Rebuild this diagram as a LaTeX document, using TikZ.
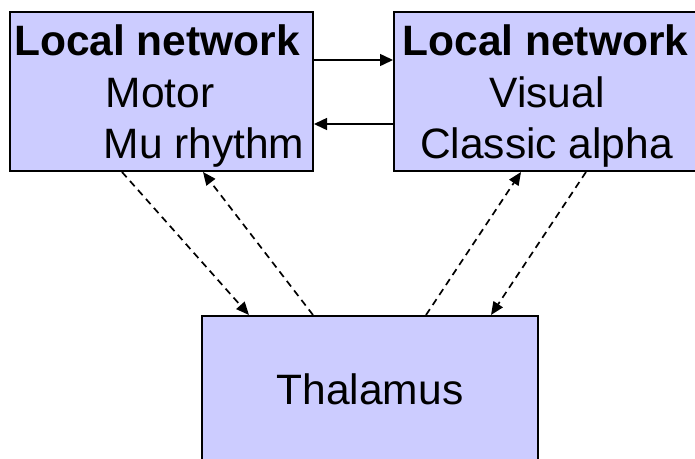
\documentclass[tikz,border=0pt]{standalone}
\usepackage{fontspec}
\setmainfont{Liberation Sans}
\usetikzlibrary{arrows.meta}
\definecolor{boxfill}{RGB}{204,204,255}
\tikzset{
  netbox/.style={draw=black, line width=2pt, fill=boxfill, rectangle, inner sep=0pt},
  txt/.style={anchor=base, inner sep=0pt, font=\fontsize{42.5}{51}\selectfont},
  solidarrow/.style={line width=1.5pt, -{Triangle[length=13pt,width=12pt]}},
  dasharrow/.style={line width=1.7pt, dash pattern=on 7pt off 5pt, -{Triangle[length=13pt,width=11pt]}}
}
\begin{document}
\begin{tikzpicture}[x=1pt,y=-1pt]
\useasboundingbox (0,0) rectangle (695,458);
\node[netbox, minimum width=303pt, minimum height=159pt] (L) at (161.5,91.5) {};
\node[netbox, minimum width=303pt, minimum height=159pt] (R) at (545.5,91.5) {};
\node[netbox, minimum width=336pt, minimum height=146pt] (T) at (370,389) {};
% texts
\node[txt] (l1) at (157,55.5) {\textbf{Local network}};
\node[txt] (l2) at (160,107.5) {Motor};
\node[txt] (l3) at (204,158.5) {Mu rhythm};
\node[txt] (r1) at (545.5,55.5) {\textbf{Local network}};
\node[txt] (r2) at (547,107.5) {Visual};
\node[txt] (r3) at (546.5,158.5) {Classic alpha};
\node[txt] (t1) at (370,404.5) {Thalamus};
% solid arrows
\draw[solidarrow] ([yshift=31.5pt]L.east) -- ([yshift=31.5pt]R.west);
\draw[solidarrow] ([yshift=-32.5pt]R.west) -- ([yshift=-32.5pt]L.east);
% dashed arrows
\draw[dasharrow] ([xshift=-39.5pt]L.south) -- ([xshift=-121pt]T.north);
\draw[dasharrow] ([xshift=-57pt]T.north) -- ([xshift=41.5pt]L.south);
\draw[dasharrow] ([xshift=56pt]T.north) -- ([xshift=-24.5pt]R.south);
\draw[dasharrow] ([xshift=40.5pt]R.south) -- ([xshift=121pt]T.north);
\end{tikzpicture}
\end{document}
